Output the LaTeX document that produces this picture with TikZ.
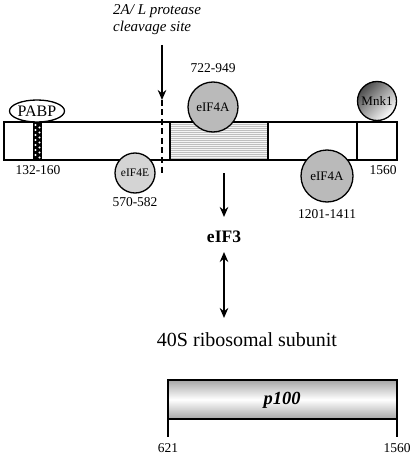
\documentclass[tikz,border=0pt]{standalone}
\usepackage{fontspec}
\setmainfont{Liberation Serif}
\usetikzlibrary{arrows.meta,shapes.geometric}
\begin{document}
\begin{tikzpicture}[x=1pt,y=-1pt,
  prot/.style={circle, draw, line width=1.3pt, fill=black!27, inner sep=0pt, minimum size=50pt, font=\fontsize{13}{15}\selectfont},
  num/.style={font=\fontsize{13.5}{15}\selectfont, inner sep=0pt},
  arr/.style={line width=1.6pt, -{Stealth[length=10pt,width=8.5pt]}},
  darr/.style={line width=1.6pt, {Stealth[length=10pt,width=8.5pt]}-{Stealth[length=10pt,width=8.5pt]}},
  barline/.style={line width=1.5pt}
]
\useasboundingbox (0,0) rectangle (415,457);
% main bar
\draw[barline, fill=white] (4,122) rectangle (397,160);
\fill[black!4] (170,122) rectangle (268,160);
\foreach \yy in {124,126,...,158} \draw[black!25, line width=0.35pt] (170,\yy) -- (268,\yy);
\draw[barline] (170,122) rectangle (268,160);
\draw[barline] (357,122) -- (357,160);
% stipple
\fill[black] (33,122) rectangle (42,160);
\foreach \yy in {125,130,...,157} {\fill[white] (35.5,\yy) circle (1.1pt); \fill[white] (39.5,\yy+2.5) circle (1.1pt);}
% cleavage site
\coordinate (cut) at (162,100);
\coordinate (cutend) at (162,175);
\coordinate (cuttop) at (162,45);
\draw[barline, line width=1.6pt, dash pattern=on 6pt off 3.5pt] (cut) -- (cutend);
\node[anchor=north west, align=left, inner sep=0pt, font=\itshape\fontsize{15}{17.5}\selectfont] (lbl) at (113,4) {2A/ L protease\\cleavage site};
\draw[arr] (cuttop) -- (cut);
% binding partners
\node[ellipse, draw, line width=1.3pt, fill=white, minimum width=55pt, minimum height=22pt, inner sep=0pt, font=\fontsize{16}{18}\selectfont] (pabp) at (37,111) {PABP};
\node[prot] (eA1) at (213,107) {eIF4A};
\node[prot, fill=black!17, minimum size=40pt, font=\fontsize{11.5}{13}\selectfont] (eE) at (135,173) {eIF4E};
\node[prot, minimum size=52pt] (eA2) at (327,176) {eIF4A};
\node[circle, draw, line width=1.3pt, inner sep=0pt, minimum size=39pt, top color=black!70, bottom color=white, shading angle=45, font=\fontsize{13}{15}\selectfont] (mnk) at (377,101) {Mnk1};
% numbers
\node[num] (n1) at (38,170) {132-160};
\node[num] (n2) at (213,68) {722-949};
\node[num] (n3) at (135,202) {570-582};
\node[num] (n4) at (327,214) {1201-1411};
\node[num] (n5) at (383,170) {1560};
% eIF3 cascade
\coordinate (dstart) at (224,173);
\node[inner sep=0pt, font=\bfseries\fontsize{17.5}{20}\selectfont] (eif3) at (224,237) {eIF3};
\node[inner sep=0pt, font=\fontsize{20}{23}\selectfont] (s40) at (247,340) {40S ribosomal subunit};
\draw[arr] (dstart) -- (224,217);
\draw[darr] (224,252) -- (224,318);
% p100
\draw[barline, top color=black!35, bottom color=black!35, middle color=white] (168,380) rectangle (397,419);
\node[inner sep=0pt, font=\bfseries\itshape\fontsize{18.5}{21}\selectfont] (p100) at (282,400) {p100};
\draw[barline] (168,419) -- (168,437) (397,419) -- (397,437);
\node[num] (n6) at (168,448) {621};
\node[num] (n7) at (397,448) {1560};
\end{tikzpicture}
\end{document}
